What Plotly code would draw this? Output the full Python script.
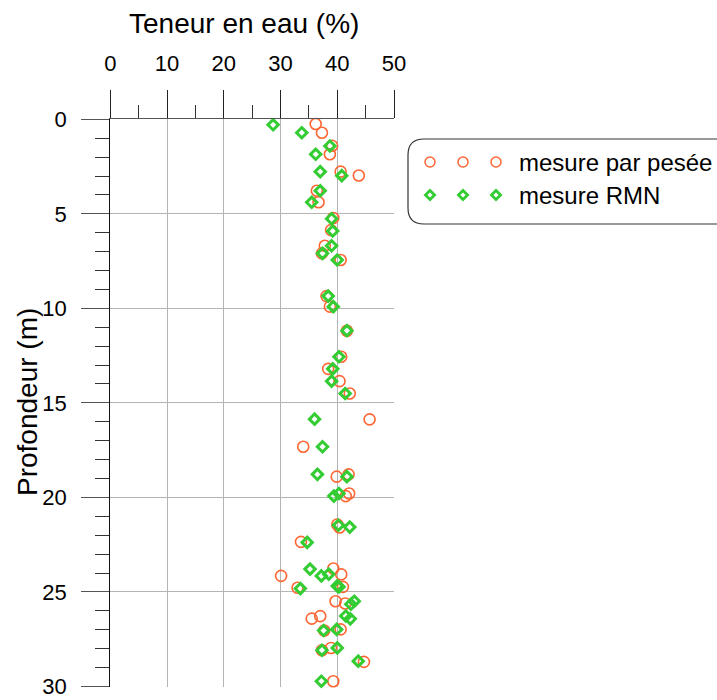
import plotly.graph_objects as go

# Mesure par pesee: profondeur (m) et teneur en eau (%)
depth_pesee = [0.25, 0.71, 1.40, 1.85, 2.77, 2.97, 3.78, 4.39, 5.22, 5.86, 6.69, 7.09, 7.44,
               9.35, 9.91, 11.18, 12.56, 13.20, 13.85, 14.50, 15.87, 17.32, 18.78, 18.90,
               19.79, 19.93, 21.43, 21.59, 22.35, 23.76, 24.07, 24.15, 24.73, 24.78, 25.49,
               25.61, 26.28, 26.41, 26.98, 27.04, 27.96, 28.08, 28.70, 29.72]
eau_pesee = [36.2, 37.3, 39.1, 38.7, 40.6, 43.8, 36.4, 36.7, 39.3, 38.9, 37.8, 37.3, 40.6,
             38.1, 38.7, 41.7, 40.7, 38.4, 40.4, 42.2, 45.7, 34.0, 42.0, 39.9,
             42.1, 41.5, 40.0, 40.4, 33.6, 39.3, 40.7, 30.1, 41.0, 33.0, 39.7,
             41.4, 37.0, 35.5, 40.6, 37.7, 38.9, 37.3, 44.7, 39.3]

# Mesure RMN
depth_rmn = [0.29, 0.71, 1.41, 1.85, 2.77, 2.98, 3.78, 4.39, 5.26, 5.91, 6.69, 7.09, 7.44,
             9.35, 9.91, 11.18, 12.56, 13.20, 13.85, 14.50, 15.86, 17.32, 18.78, 18.90,
             19.79, 19.93, 21.47, 21.57, 22.38, 23.79, 24.06, 24.15, 24.68, 24.73, 24.82,
             25.49, 25.65, 26.27, 26.42, 26.98, 27.04, 27.96, 28.08, 28.66, 29.72]
eau_rmn = [28.7, 33.75, 38.7, 36.2, 37.0, 40.8, 37.0, 35.5, 39.0, 39.2, 39.0, 37.4, 40.0,
           38.4, 39.3, 41.7, 40.3, 39.2, 39.0, 41.4, 36.0, 37.4, 36.5, 41.7,
           40.3, 39.4, 40.2, 42.2, 34.7, 35.2, 38.5, 37.2, 40.0, 40.3, 33.5,
           43.0, 42.4, 41.5, 42.3, 39.9, 37.6, 40.0, 37.3, 43.7, 37.2]

labels = ["mesure par pesée", "mesure RMN"]

W, H = 717, 700
FONT = "Liberation Sans, Arial, sans-serif"
ORANGE = "#ff6633"
GREEN = "#33cc33"

fig = go.Figure()

fig.add_trace(go.Scatter(
    x=eau_pesee, y=depth_pesee, mode="markers", name=labels[0], cliponaxis=False,
    marker=dict(symbol="circle-open", size=11, color=ORANGE, line=dict(width=1.6, color=ORANGE))))
fig.add_trace(go.Scatter(
    x=eau_rmn, y=depth_rmn, mode="markers", name=labels[1], cliponaxis=False,
    marker=dict(symbol="diamond-open", size=8, color=GREEN, line=dict(width=3, color=GREEN))))

# hand-made legend (three symbols per entry) on a full-page pixel axis
leg_x = [430, 463, 496]
leg_y = [162, 195]
fig.add_trace(go.Scatter(
    x=leg_x, y=[leg_y[0]] * 3, xaxis="x2", yaxis="y2", mode="markers", showlegend=False,
    hoverinfo="skip",
    marker=dict(symbol="circle-open", size=10, color=ORANGE, line=dict(width=1.5, color=ORANGE))))
fig.add_trace(go.Scatter(
    x=leg_x, y=[leg_y[1]] * 3, xaxis="x2", yaxis="y2", mode="markers", showlegend=False,
    hoverinfo="skip",
    marker=dict(symbol="diamond-open", size=7, color=GREEN, line=dict(width=2.8, color=GREEN))))

for lab, yy in zip(labels, leg_y):
    fig.add_annotation(x=517, y=yy, xref="x2", yref="y2", text=lab, showarrow=False,
                       xanchor="left", yanchor="middle", font=dict(size=24, color="black"))

bx0, by0, by1 = 408, 139, 224
fig.add_shape(type="path", xref="x2", yref="y2",
              path=f"M {bx0},{by0 + 16} Q {bx0},{by0} {bx0 + 16},{by0} L 760,{by0} L 760,{by1} "
                   f"L {bx0 + 16},{by1} Q {bx0},{by1} {bx0},{by1 - 16} Z",
              line=dict(color="#333333", width=1.2))

# axis titles
fig.add_annotation(x=244, y=23, xref="x2", yref="y2", text="Teneur en eau (%)",
                   showarrow=False, xanchor="center", yanchor="middle",
                   font=dict(size=28, color="black"))
fig.add_annotation(x=27, y=402, xref="x2", yref="y2", text="Profondeur (m)",
                   showarrow=False, textangle=-90, xanchor="center", yanchor="middle",
                   font=dict(size=28, color="black"))

x0, x1 = 110.3 / W, 394.0 / W
y0, y1 = 1 - 686.5 / H, 1 - 119.3 / H

fig.update_layout(
    width=W, height=H,
    margin=dict(l=0, r=0, t=0, b=0),
    paper_bgcolor="white", plot_bgcolor="rgba(0,0,0,0)",
    font=dict(family=FONT, color="black"),
    showlegend=False,
    xaxis=dict(domain=[x0, x1], range=[0, 50], side="top", dtick=10, tick0=0, automargin=False,
               showline=True, linecolor="#555555", linewidth=1.2, mirror=False,
               ticks="outside", ticklen=28, tickwidth=1.2, tickcolor="#222222",
               ticklabelstandoff=10,
               showgrid=True, gridcolor="#b4b4b4", gridwidth=1.2, zeroline=False,
               tickfont=dict(size=22),
               minor=dict(dtick=5, ticklen=13, tickwidth=1.2, tickcolor="#333333", showgrid=False)),
    yaxis=dict(domain=[y0, y1], range=[30, 0], dtick=5, tick0=0, automargin=False,
               showline=True, linecolor="#111111", linewidth=1.2,
               ticks="outside", ticklen=28, tickwidth=1.2, tickcolor="#555555",
               ticklabelstandoff=10,
               showgrid=True, gridcolor="#b4b4b4", gridwidth=1.2, zeroline=False,
               tickfont=dict(size=22),
               minor=dict(dtick=1, ticklen=14, tickwidth=1.2, tickcolor="#333333", showgrid=False)),
    xaxis2=dict(domain=[0, 1], range=[0, W], anchor="y2", visible=False, fixedrange=True,
                automargin=False),
    yaxis2=dict(domain=[0, 1], range=[H, 0], anchor="x2", visible=False, fixedrange=True,
                automargin=False),
)

# drop the page margin so the 717x700 figure fills the window exactly
fig.write_html("out.html", config={"displayModeBar": False},
               post_script="document.body.style.margin='0';document.body.style.overflow='hidden';")
